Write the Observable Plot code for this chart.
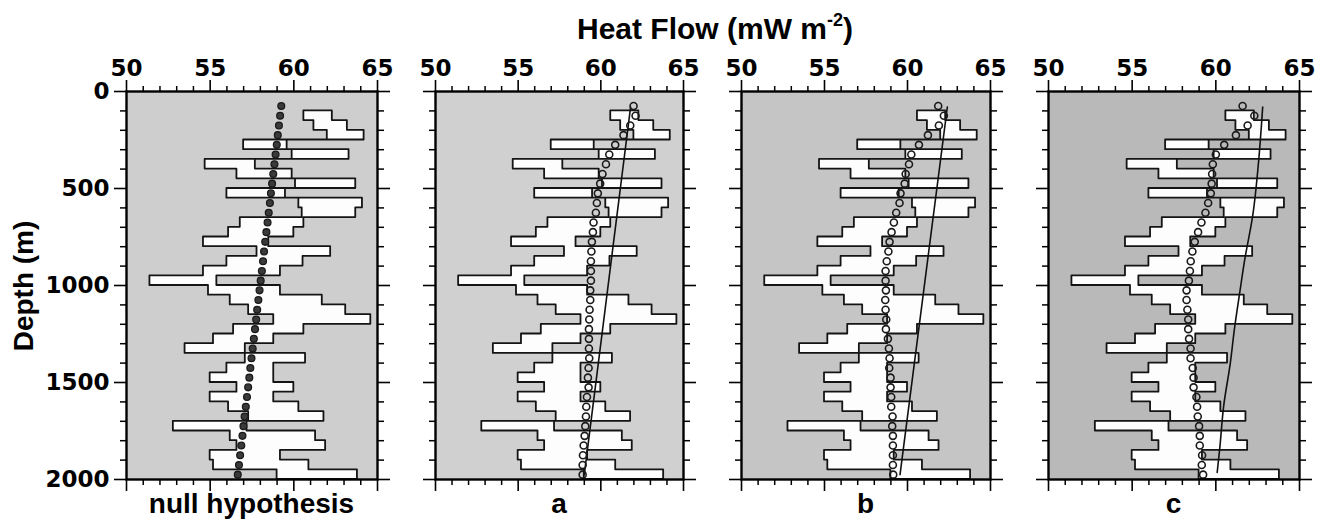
<!DOCTYPE html>
<html>
<head>
<meta charset="utf-8">
<script src="https://cdn.jsdelivr.net/npm/d3@7"></script>
<script src="https://cdn.jsdelivr.net/npm/@observablehq/plot@0.6"></script>
<style>
  html, body { margin: 0; padding: 0; background: #fff; }
  #wrap { position: relative; width: 1327px; height: 524px; overflow: hidden; font-family: "Liberation Sans", Arial, sans-serif; }
  #wrap svg { position: absolute; top: 0; }
  .title { position: absolute; left: 0; width: 1430px; top: 14px; text-align: center; font-weight: bold; font-size: 30px; line-height: 30px; color: #000; }
  .title sup { font-size: 0.6em; vertical-align: 0.7em; line-height: 0; }
  .plab { position: absolute; top: 490px; text-align: center; font-weight: bold; font-size: 28px; line-height: 28px; color: #000; }
  .ylab { position: absolute; left: 24px; top: 286px; transform: translate(-50%, -50%) rotate(-90deg); font-weight: bold; font-size: 28px; line-height: 28px; white-space: nowrap; color: #000; }
</style>
</head>
<body>
<div id="wrap">
  <div class="title">Heat Flow (mW m<sup>-2</sup>)</div>
  <div class="ylab">Depth (m)</div>
</div>
<script>
// ---- data ----
const rowTop = [100,150,200,250,300,350,400,450,500,550,600,650,700,750,800,850,900,950,1000,1050,1100,1150,1200,1250,1300,1350,1400,1450,1500,1550,1600,1650,1700,1750,1800,1850,1900,1950];
const hfLow  = [60.6,61.2,62.0,57.0,59.9,54.7,56.6,60.1,56.0,60.3,60.5,56.8,56.1,54.6,57.8,56.0,54.6,51.4,54.9,56.2,57.3,58.8,56.4,55.2,53.5,57.1,56.0,55.0,56.6,55.0,56.1,57.3,52.8,56.2,56.6,55.0,55.2,59.0];
const hfHigh = [62.3,63.2,64.2,59.6,63.3,57.7,59.9,63.7,59.5,64.1,63.7,60.6,60.0,58.5,62.2,60.55,59.2,55.4,59.2,61.7,63.1,64.6,60.6,58.8,57.1,60.7,58.8,58.8,60.0,58.8,60.3,61.8,57.2,61.3,61.9,59.2,60.9,63.8];

const modelDepth = [75,125,175,225,275,325,375,425,475,525,575,625,675,725,775,825,875,925,975,1025,1075,1125,1175,1225,1275,1325,1375,1425,1475,1525,1575,1625,1675,1725,1775,1825,1875,1925,1975];
const modelNull = [59.25,59.18,59.11,59.04,58.98,58.91,58.84,58.77,58.70,58.63,58.57,58.50,58.43,58.36,58.29,58.22,58.16,58.09,58.02,57.95,57.88,57.81,57.75,57.68,57.61,57.54,57.47,57.40,57.34,57.27,57.20,57.13,57.06,56.99,56.93,56.86,56.79,56.72,56.65];
const modelA = [61.98,62.10,61.78,61.37,60.87,60.51,60.31,60.10,59.96,59.82,59.76,59.70,59.56,59.52,59.46,59.43,59.40,59.40,59.40,59.36,59.36,59.32,59.30,59.28,59.28,59.28,59.30,59.26,59.22,59.26,59.16,59.12,59.10,59.06,59.02,58.96,58.92,58.90,58.90];
const modelB = [61.85,62.19,61.89,61.23,60.69,60.23,60.09,59.89,59.83,59.58,59.52,59.32,59.18,59.04,58.92,58.85,58.75,58.68,58.68,58.70,58.66,58.68,58.72,58.70,58.82,58.88,58.92,58.90,58.98,58.98,59.02,59.02,59.10,59.08,59.12,59.12,59.12,59.12,59.14];
const modelC = [61.6,62.3,61.9,61.2,60.5,60.0,59.82,59.78,59.75,59.7,59.54,59.38,59.14,58.94,58.74,58.6,58.5,58.45,58.39,58.25,58.25,58.3,58.35,58.35,58.4,58.49,58.49,58.62,58.67,58.67,58.84,58.88,58.92,59.0,59.04,59.04,59.18,59.16,59.24];

const lineADepth = [80, 1975];
const lineAHF    = [61.8, 59.0];
const lineBDepth = [80, 1975];
const lineBHF    = [62.4, 59.55];
const lineCDepth = [80, 356, 631, 881, 1036, 1225, 1397, 1620, 1843, 1964];
const lineCHF    = [62.8, 62.56, 62.22, 61.7, 61.43, 61.11, 60.87, 60.47, 60.23, 60.08];

const xMajor = [50, 55, 60, 65];
const xMinor = [51,52,53,54,56,57,58,59,61,62,63,64];
const yMajor = [0, 500, 1000, 1500, 2000];
const yMinor = [100,200,300,400,600,700,800,900,1100,1200,1300,1400,1600,1700,1800,1900];

const panelNames = ["null hypothesis", "a", "b", "c"];
const panelLeft  = [126, 435, 741, 1048];
const panelWidth = [251, 248, 249, 251];
const panelBg    = ["#cecece", "#d0d0d0", "#c5c5c5", "#b9b9b9"];
const panelModel = [modelNull, modelA, modelB, modelC];
const panelLine  = [null, [lineADepth, lineAHF], [lineBDepth, lineBHF], [lineCDepth, lineCHF]];

// ---- drawing ----
const wrap = document.getElementById("wrap");
const tickFont = {fontSize: 23, fontWeight: "bold", fontFamily: "DejaVu Sans"};
const blank = () => "";

panelNames.forEach((name, p) => {
  const withLabels = p === 0;
  const ml = withLabels ? 126 : 40;
  const mr = 30;
  const steps = rowTop.flatMap((t, i) => [
    {depth: t, lo: hfLow[i], hi: hfHigh[i]},
    {depth: t + 50, lo: hfLow[i], hi: hfHigh[i]}
  ]);
  const model = modelDepth.map((d, i) => ({depth: d, q: panelModel[p][i]}));
  const ln = panelLine[p] ? panelLine[p][0].map((d, i) => ({depth: d, q: panelLine[p][1][i]})) : null;

  const marks = [
    Plot.frame({fill: panelBg[p], stroke: null}),
    Plot.areaX(steps, {y: "depth", x1: "lo", x2: "hi", fill: "#fdfdfd", stroke: "#141414", strokeWidth: 1.8}),
    ln ? Plot.line(ln, {x: "q", y: "depth", stroke: "#111", strokeWidth: 1.6, curve: "monotone-y"}) : null,
    Plot.dot(model, {x: "q", y: "depth", r: p === 0 ? 3.4 : 3.5, fill: p === 0 ? "#3a3a3a" : "none", stroke: "#1a1a1a", strokeWidth: p === 0 ? 1.3 : 1.6}),
    // x axes
    Plot.axisX(xMajor, {anchor: "top", tickSize: 12, tickPadding: 4, tickFormat: d => String(d), label: null, strokeWidth: 1.6, ...tickFont}),
    Plot.axisX(xMinor, {anchor: "top", tickSize: 6, tickFormat: blank, label: null, strokeWidth: 1.5}),
    Plot.axisX(xMajor, {anchor: "bottom", tickSize: 12, tickFormat: blank, label: null, strokeWidth: 1.6}),
    Plot.axisX(xMinor, {anchor: "bottom", tickSize: 6, tickFormat: blank, label: null, strokeWidth: 1.5}),
    // y axes
    Plot.axisY(yMajor, {anchor: "left", tickSize: 12, tickPadding: 5, tickFormat: withLabels ? (d => String(d)) : blank, label: null, strokeWidth: 1.6, ...tickFont}),
    Plot.axisY(yMinor, {anchor: "left", tickSize: 6, tickFormat: blank, label: null, strokeWidth: 1.5}),
    Plot.axisY(yMajor, {anchor: "right", tickSize: 12, tickFormat: blank, label: null, strokeWidth: 1.6}),
    Plot.axisY(yMinor, {anchor: "right", tickSize: 6, tickFormat: blank, label: null, strokeWidth: 1.5}),
    Plot.frame({stroke: "#000", strokeWidth: 2.4})
  ];

  const svg = Plot.plot({
    width: ml + panelWidth[p] + mr,
    height: 524,
    marginLeft: ml,
    marginRight: mr,
    marginTop: 91,
    marginBottom: 45,
    x: {domain: [50, 65]},
    y: {domain: [0, 2000], reverse: true},
    style: {background: "transparent", overflow: "visible", color: "#000"},
    marks
  });
  svg.style.left = (panelLeft[p] - ml) + "px";
  wrap.appendChild(svg);

  const lab = document.createElement("div");
  lab.className = "plab";
  lab.textContent = name;
  lab.style.left = panelLeft[p] + "px";
  lab.style.width = panelWidth[p] + "px";
  wrap.appendChild(lab);
});
</script>
</body>
</html>
